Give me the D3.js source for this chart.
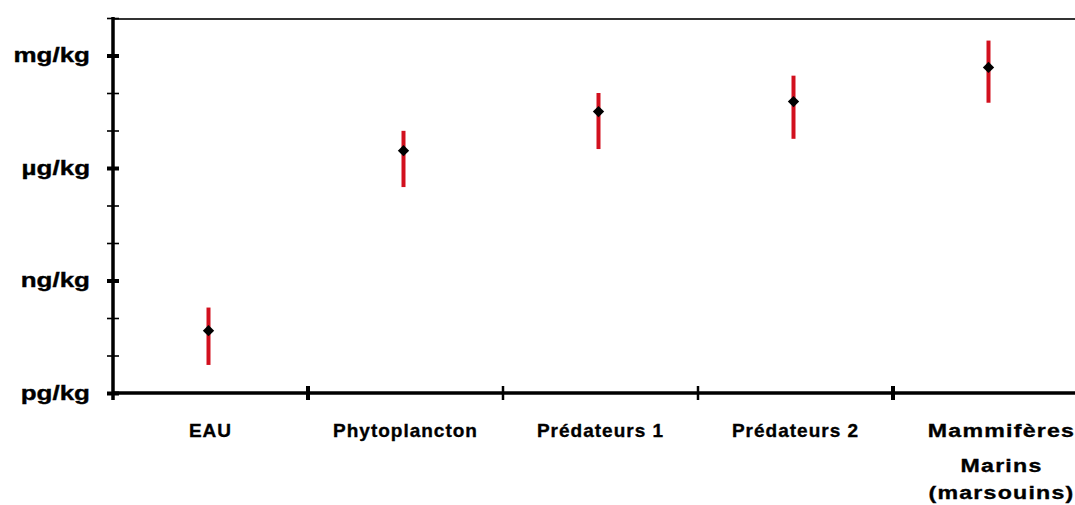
<!DOCTYPE html>
<html>
<head>
<meta charset="utf-8">
<script src="https://cdn.jsdelivr.net/npm/d3@7"></script>
<style>
  body { margin: 0; background: #fff; }
  text { font-family: "Liberation Sans", Arial, sans-serif; font-weight: bold; fill: #000; stroke: #000; stroke-width: 0.35px; }
</style>
</head>
<body>
<svg width="1075" height="505"></svg>
<script>
// categories along the x axis (multi-line labels split by \n)
var categories = ['EAU', 'Phytoplancton', 'Prédateurs 1', 'Prédateurs 2', 'Mammifères\nMarins\n(marsouins)'];

// concentrations, in pg/kg (log scale)
var medianValues = [46, 2.9e6, 3.2e7, 5.9e7, 4.8e8];
var lowValues    = [5.6, 3.1e5, 3.2e6, 6.0e6, 5.5e7];
var highValues   = [190, 9.8e6, 1.0e8, 2.9e8, 2.5e9];

// y tick labels at each factor of 1000
var unitTicks  = [1, 1e3, 1e6, 1e9];
var unitLabels = ['pg/kg', 'ng/kg', 'µg/kg', 'mg/kg'];

var svg = d3.select('svg');

var padding = {t: 18, l: 113, b: 112};
var axisY = 393;
var step = 195;

var yScale = d3.scaleLog()
    .domain([1, 1e10])
    .range([axisY, padding.t]);

var xScale = d3.scaleBand()
    .domain(categories)
    .range([padding.l, padding.l + step * categories.length])
    .padding(0);

// top frame line
svg.append('line')
    .attr('x1', padding.l).attr('x2', 1075)
    .attr('y1', padding.t + 1).attr('y2', padding.t + 1)
    .attr('stroke', '#333').attr('stroke-width', 2);

// y axis: ticks at each decade, crossing the axis line
var decadeTicks = d3.range(0, 11).map(function(e){ return Math.pow(10, e); });

var yAxis = d3.axisLeft(yScale)
    .tickValues(decadeTicks)
    .tickSize(12)
    .tickPadding(17)
    .tickFormat(function(d){
        var i = unitTicks.indexOf(d);
        return i >= 0 ? unitLabels[i] : '';
    });

var yG = svg.append('g')
    .attr('transform', 'translate(' + (padding.l + 6) + ',0)')
    .call(yAxis);
yG.select('.domain').remove();
yG.selectAll('.tick line')
    .attr('stroke', '#000')
    .attr('stroke-width', function(d){ return unitTicks.indexOf(d) >= 0 ? 4 : 1.6; });
yG.selectAll('.tick text')
    .attr('dy', '0.3em')
    .style('font-size', '20px')
    .attr('transform', 'scale(1.3,1)')
    .attr('x', -29 / 1.3);

svg.append('line')
    .attr('x1', padding.l).attr('x2', padding.l)
    .attr('y1', padding.t - 1).attr('y2', axisY + 7)
    .attr('stroke', '#000').attr('stroke-width', 3.5);

// x axis
svg.append('line')
    .attr('x1', padding.l).attr('x2', 1075)
    .attr('y1', axisY).attr('y2', axisY)
    .attr('stroke', '#000').attr('stroke-width', 3.5);

// dividers between categories
svg.selectAll('.divider')
    .data(categories.slice(1))
    .enter().append('line')
    .attr('class', 'divider')
    .attr('x1', function(d){ return xScale(d); })
    .attr('x2', function(d){ return xScale(d); })
    .attr('y1', axisY - 7).attr('y2', axisY + 7)
    .attr('stroke', '#000')
    .attr('stroke-width', function(d, i){ return (i === 0 || i === 3) ? 4 : 2.5; });

// category labels
var labelG = svg.selectAll('.cat')
    .data(categories)
    .enter().append('text')
    .attr('class', 'cat')
    .attr('text-anchor', 'middle')
    .style('font-size', '19px')
    .style('letter-spacing', '1px')
    .attr('transform', function(d){
        var cx = xScale(d) + xScale.bandwidth() / 2;
        // the wrapped last label is drawn wider, like the original
        if (d.indexOf('\n') >= 0) return 'translate(' + (cx + 11) + ',437) scale(1.22,1)';
        return 'translate(' + cx + ',437)';
    });

labelG.selectAll('tspan')
    .data(function(d){ return d.split('\n'); })
    .enter().append('tspan')
    .attr('x', 0)
    .attr('dy', function(d, i){ return i === 0 ? 0 : (i === 1 ? '1.85em' : '1.4em'); })
    .text(function(d){ return d; });

// error bars
var points = categories.map(function(c, i){
    return {cat: c, mid: medianValues[i], low: lowValues[i], high: highValues[i]};
});

svg.selectAll('.err')
    .data(points)
    .enter().append('line')
    .attr('class', 'err')
    .attr('x1', function(d){ return xScale(d.cat) + xScale.bandwidth() / 2 - 2; })
    .attr('x2', function(d){ return xScale(d.cat) + xScale.bandwidth() / 2 - 2; })
    .attr('y1', function(d){ return yScale(d.low); })
    .attr('y2', function(d){ return yScale(d.high); })
    .attr('stroke', '#d2101e')
    .attr('stroke-width', 4);

// diamond markers
svg.selectAll('.pt')
    .data(points)
    .enter().append('path')
    .attr('class', 'pt')
    .attr('d', d3.symbol().type(d3.symbolSquare).size(64))
    .attr('transform', function(d){
        return 'translate(' + (xScale(d.cat) + xScale.bandwidth() / 2 - 2) + ',' + yScale(d.mid) + ') rotate(45)';
    })
    .attr('fill', '#000');
</script>
</body>
</html>
